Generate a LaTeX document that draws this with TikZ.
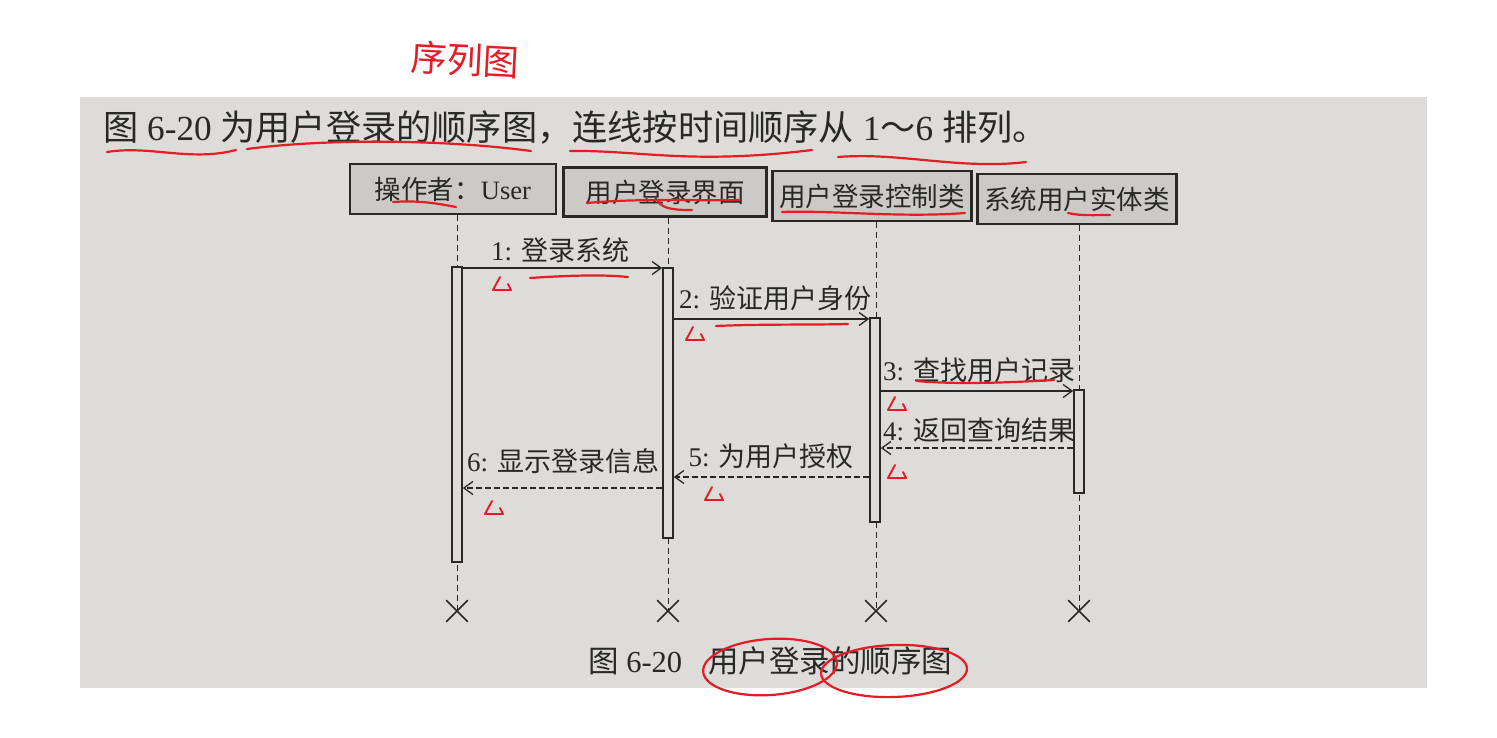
\documentclass[tikz,border=0pt]{standalone}
\usepackage{fontspec}
\setmainfont{Liberation Serif}
\newfontfamily\cjk{Noto Sans CJK SC}
\usetikzlibrary{arrows.meta,shapes.misc,calc}
\definecolor{paper}{RGB}{222,220,216}
\definecolor{boxfill}{RGB}{204,202,198}
\definecolor{ink}{RGB}{40,40,40}
\definecolor{pen}{RGB}{228,28,38}
\tikzset{
  lbox/.style={draw=ink, fill=boxfill, line width=2.4pt, inner sep=0pt, font=\fontsize{26.5}{30}\selectfont, text=ink},
  act/.style={draw=ink, fill=paper, line width=1.6pt, minimum width=10pt, inner sep=0pt},
  life/.style={draw=ink, dashed, line width=1pt, dash pattern=on 6pt off 4pt},
  msg/.style={draw=ink, line width=1.3pt, -{Straight Barb[length=9pt,width=13pt,line width=1.3pt]}},
  ret/.style={msg, dash pattern=on 6pt off 3pt},
  mlabel/.style={font=\fontsize{27}{30}\selectfont, text=ink, inner sep=0pt},
  kill/.style={cross out, draw=ink, line width=1.6pt, minimum size=20pt, inner sep=0pt},
  pen/.style={draw=pen, line width=2.2pt, line cap=round, line join=round},
  redmark/.pic={\draw[pen, line width=1.9pt] (0,0) -- (-7,13) -- (11,13) -- (8,7);}
}
\begin{document}
\begin{tikzpicture}[x=1pt, y=-1pt]
\useasboundingbox (0,0) rectangle (1497,737);
\fill[white] (0,0) rectangle (1497,737);
\fill[paper] (80,97) rectangle (1427,688);

% title
\node[anchor=west, inner sep=0pt, text=ink, font=\fontsize{35.2}{40}\selectfont] (title) at (103,128)
  {{\cjk 图} 6-20 {\cjk 为用户登录的顺序图，连线按时间顺序从} 1{\cjk ～}6 {\cjk 排列。}};

% lifeline heads
\node[lbox, minimum width=206pt, minimum height=50pt] (b1) at (453,189) {{\cjk 操作者：}User};
\node[lbox, minimum width=203pt, minimum height=49pt] (b2) at (665,192) {\cjk 用户登录界面};
\node[lbox, minimum width=199pt, minimum height=50pt] (b3) at (872,196) {\cjk 用户登录控制类};
\node[lbox, minimum width=199pt, minimum height=50pt] (b4) at (1077,199) {\cjk 系统用户实体类};

% destruction marks
\node[kill] (d1) at (457,611) {};
\node[kill] (d2) at (668,611) {};
\node[kill] (d3) at (876,611) {};
\node[kill] (d4) at (1079,611) {};

% lifelines
\draw[life] (d1 |- b1.south) -- (d1.center);
\draw[life] (d2 |- b2.south) -- (d2.center);
\draw[life] (d3 |- b3.south) -- (d3.center);
\draw[life] (d4 |- b4.south) -- (d4.center);

% activation bars
\node[act, minimum height=295pt] (a1) at (457,414.5) {};
\node[act, minimum height=270pt] (a2) at (668,403) {};
\node[act, minimum height=204pt] (a3) at (875,420) {};
\node[act, minimum height=103pt] (a4) at (1079,441.5) {};

% message rows
\coordinate (m1) at (0,268);
\coordinate (m2) at (0,319);
\coordinate (m3) at (0,391);
\coordinate (m4) at (0,448);
\coordinate (m5) at (0,477);
\coordinate (m6) at (0,488);

\draw[msg] (a1.east |- m1) -- (a2.west |- m1);
\draw[msg] (a2.east |- m2) -- (a3.west |- m2);
\draw[msg] (a3.east |- m3) -- (a4.west |- m3);
\draw[ret] (a4.west |- m4) -- (a3.east |- m4);
\draw[ret] (a3.west |- m5) -- (a2.east |- m5);
\draw[ret] (a2.west |- m6) -- (a1.east |- m6);

\node[mlabel] (l1) at (560,250) {1: {\cjk 登录系统}};
\node[mlabel] (l2) at (775,298) {2: {\cjk 验证用户身份}};
\node[mlabel] (l3) at (979,370) {3: {\cjk 查找用户记录}};
\node[mlabel] (l4) at (979,430) {4: {\cjk 返回查询结果}};
\node[mlabel] (l5) at (771,456) {5: {\cjk 为用户授权}};
\node[mlabel] (l6) at (563,461) {6: {\cjk 显示登录信息}};

% caption
\node[anchor=west, inner sep=0pt, text=ink, font=\fontsize{30.5}{34}\selectfont] (cap) at (588,661)
  {{\cjk 图} 6-20\hspace{26pt}{\cjk 用户登录的顺序图}};

% ---- red handwritten annotations ----
\node[text=pen, font=\cjk\fontsize{36}{40}\selectfont, rotate=-3] (hw) at (465,60) {序列图};

% title underlines
\draw[pen] (107,152) .. controls (150,145) and (190,162) .. (236,150);
\draw[pen] (247,149) .. controls (330,138) and (450,140) .. (531,151);
\draw[pen] (570,151) .. controls (640,150) and (690,165) .. (812,150);
\draw[pen] (838,157) .. controls (900,152) and (960,170) .. (1026,162);

% head underlines
\draw[pen] (393,202) .. controls (420,200) and (440,204) .. (456,207);
\draw[pen] (587,203) .. controls (640,198) and (700,201) .. (740,200);
\draw[pen] (658,201) .. controls (662,210) and (680,210) .. (692,210);
\draw[pen] (782,212) .. controls (830,210) and (900,218) .. (965,213);
\draw[pen] (1068,213) .. controls (1080,216) and (1095,215) .. (1110,215);

% message underlines
\draw[pen] (530,278) .. controls (560,276) and (600,274) .. (628,277);
\draw[pen] (716,326) .. controls (760,324) and (810,325) .. (848,324);
\draw[pen] (917,381) .. controls (960,385) and (1020,382) .. (1054,380);

% small marks
\pic at (500,277) {redmark};
\pic at (693,327) {redmark};
\pic at (895,397) {redmark};
\pic at (895,465) {redmark};
\pic at (712,487) {redmark};
\pic at (492,501) {redmark};

% caption circles
\draw[pen, rotate around={4:(770,667)}] (770,667) ellipse [x radius=67pt, y radius=28pt];
\draw[pen, rotate around={2:(894,671)}] (894,671) ellipse [x radius=73pt, y radius=26pt];
\end{tikzpicture}
\end{document}
